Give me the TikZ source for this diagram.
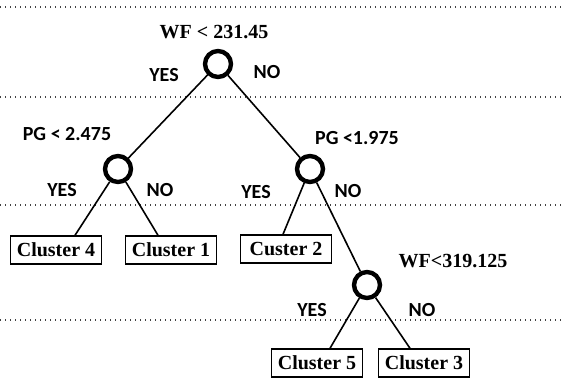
\documentclass[tikz,border=0pt]{standalone}
\usepackage{fontspec}
\setmainfont{Liberation Serif}
\newfontfamily\calfont{Carlito}
\usepackage{tikz}
\usetikzlibrary{positioning}

\begin{document}
\begin{tikzpicture}[x=1pt, y=-1pt,
    every node/.style={font=\fontsize{20}{24}\selectfont\bfseries},
    split/.style={circle, draw, line width=4.4pt, minimum size=26pt, inner sep=0pt},
    leaf/.style={draw, line width=1.4pt, minimum width=91pt, minimum height=28pt, inner sep=0pt},
    rule/.style={font=\fontsize{20}{24}\selectfont\bfseries},
    answer/.style={font=\calfont\fontsize{20}{24}\selectfont\bfseries},
    branch/.style={line width=1.6pt},
    level/.style={black!75, line width=1.3pt, dash pattern=on 1.3pt off 3.7pt}]
    \useasboundingbox (0,0) rectangle (564,387);

    % Level separators
    \foreach \ly in {7,97,205,320}
        \draw[level] (0,\ly) -- (564,\ly);

    % Root split
    \node[split] (wf1) at (218,64) {};
    \node[rule] (wf1lbl) at (214,32) {WF < 231.45};

    % Second level splits
    \node[split] (pg1) at (118,169) {};
    \node[answer] (pg1lbl) at (67,134) {PG < 2.475};
    \node[split] (pg2) at (310,169) {};
    \node[answer] (pg2lbl) at (357,138) {PG <1.975};

    % Third level split
    \node[split] (wf2) at (367,285) {};
    \node[rule] (wf2lbl) at (453,261) {WF<319.125};

    % Leaves
    \node[leaf] (c4) at (56,250) {Cluster 4};
    \node[leaf] (c1) at (171,250) {Cluster 1};
    \node[leaf] (c2) at (286,249) {Custer 2};
    \node[leaf] (c5) at (317,363) {Cluster 5};
    \node[leaf] (c3) at (424,363) {Cluster 3};

    % Branches
    \draw[branch] (wf1) -- (pg1);
    \draw[branch] (wf1) -- (pg2);
    \draw[branch] (pg1) -- ([xshift=19pt]c4.north);
    \draw[branch] (pg1) -- ([xshift=-13pt]c1.north);
    \draw[branch] (pg2) -- ([xshift=-3pt]c2.north);
    \draw[branch] (pg2) -- (wf2);
    \draw[branch] (wf2) -- ([xshift=13pt]c5.north);
    \draw[branch] (wf2) -- ([xshift=-14pt]c3.north);

    % YES / NO labels
    \node[answer] (y1) at (164,75) {YES};
    \node[answer] (n1) at (267,72) {NO};
    \node[answer] (y2) at (62,190) {YES};
    \node[answer] (n2) at (160,190) {NO};
    \node[answer] (y3) at (256,192) {YES};
    \node[answer] (n3) at (348,191) {NO};
    \node[answer] (y4) at (312,310) {YES};
    \node[answer] (n4) at (422,310) {NO};

\end{tikzpicture}
\end{document}
